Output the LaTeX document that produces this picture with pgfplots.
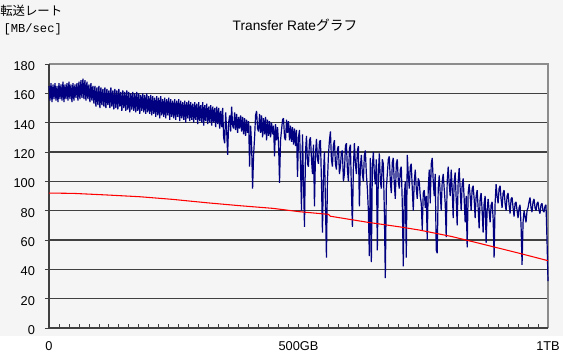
\documentclass[border=0pt]{standalone}
\usepackage{pgfplots}
\pgfplotsset{compat=1.18}
\usepackage{fontspec}
\setmainfont{Liberation Sans}
\newfontfamily\cjk{Noto Sans CJK JP}
\newfontfamily\monof{Liberation Mono}
\definecolor{bgray}{HTML}{F5F5F5}
\definecolor{bluel}{HTML}{000080}
\definecolor{gridc}{HTML}{404040}
\definecolor{framec}{HTML}{8C8C8C}
\begin{document}
\begin{tikzpicture}
\useasboundingbox (0,0) rectangle (426pt,268.5pt);
\fill[white] (0,0) rectangle (426pt,268.5pt);
\fill[bgray] (0,16.5pt) rectangle (422.25pt,268.5pt);
\node[anchor=west,inner sep=0pt,font=\cjk\fontsize{9.3pt}{10pt}\selectfont] at (0pt,260.2pt) {転送レート};
\node[anchor=west,inner sep=0pt,font=\monof\fontsize{9.1pt}{10pt}\selectfont] at (2.5pt,246.4pt) {[MB/sec]};
\node[inner sep=0pt,font=\fontsize{10.3pt}{11pt}\selectfont] at (221.25pt,249.75pt) {Transfer Rate{\cjk グラフ}};
\begin{axis}[
  at={(36.75pt,22.5pt)}, anchor=south west,
  scale only axis, width=374.25pt, height=198pt,
  xmin=0, xmax=1000, ymin=0, ymax=180,
  axis line style={draw=none},
  axis background/.style={fill=bgray},
  ytick={0,20,...,180},
  xtick={0,500,1000},
  xticklabels={0,500GB,1TB},
  minor xtick={0,20,...,1000},
  xtick pos=bottom, ytick pos=left,
  xtick align=inside, ytick align=outside,
  major tick length=3pt, minor tick length=3pt,
  tick style={draw=gridc,line width=0.6pt},
  ymajorgrids,
  major grid style={draw=gridc,line width=0.8pt},
  /pgf/number format/assume math mode=true,
  ticklabel style={font=\fontsize{9.6pt}{10pt}\selectfont},
  xticklabel style={yshift=-7pt},
  yticklabel style={xshift=-4pt,yshift=-1.5pt},
  clip=false,
]
\draw[framec,line width=0.8pt] (axis cs:0,180) -- (axis cs:1000,180) -- (axis cs:1000,0);
\draw[gridc,line width=0.8pt] (axis cs:0,180) -- (axis cs:0,0) -- (axis cs:1000,0);
\addplot[bluel,line width=0.9pt,line join=bevel] coordinates {
(0,165)(2,155)(4,167)(6,154)(8,166)(10,156)(12,167)(14,155)(16,165)(18,154)
(20,167)(22,156)(24,166)(26,155)(28,168)(30,154)(32,166)(34,156)(36,167)(38,155)
(40,168)(42,156)(44,166)(46,154)(48,167)(50,155)(52,166)(54,157)(56,167)(58,155)
(60,168)(62,156)(64,169)(66,157)(68,170)(70,156)(72,169)(74,155)(76,168)(78,156)
(80,166)(82,154)(84,167)(86,155)(88,165)(90,153)(92,165)(94,151)(96,164)(98,152)
(100,165)(102,150)(104,164)(106,152)(108,163)(110,151)(112,164)(114,150)(116,163)(118,152)
(120,162)(122,150)(124,164)(126,151)(128,162)(130,149)(132,163)(134,150)(136,162)(138,149)
(140,163)(142,151)(144,161)(146,148)(148,162)(150,150)(152,161)(154,148)(156,162)(158,149)
(160,161)(162,147)(164,160)(166,149)(168,161)(170,148)(172,160)(174,147)(176,161)(178,148)
(180,160)(182,146)(184,159)(186,148)(188,160)(190,147)(192,159)(194,146)(196,160)(198,147)
(200,158)(202,146)(204,159)(206,145)(208,158)(210,146)(212,157)(214,144)(216,158)(218,145)
(220,157)(222,143)(224,158)(226,145)(228,156)(230,144)(232,157)(234,143)(236,156)(238,145)
(240,157)(242,142)(244,156)(246,144)(248,155)(250,143)(252,156)(254,142)(256,155)(258,144)
(260,156)(262,141)(264,155)(266,143)(268,154)(270,142)(272,155)(274,140)(276,154)(278,143)
(280,155)(282,141)(284,154)(286,142)(288,153)(290,140)(292,154)(294,142)(296,153)(298,139)
(300,154)(302,141)(304,152)(306,140)(308,154)(310,138)(312,152)(314,141)(316,153)(318,139)
(320,151)(322,140)(324,152)(326,138)(328,151)(330,140)(332,150)(334,137)(336,151)(338,139)
(340,150)(342,136)(344,148)(346,137)(348,150)(350,130)(352,126)(354,147)(356,135)(358,118)
(360,140)(362,145)(364,134)(366,151)(368,138)(370,136)(372,147)(374,135)(376,146)(378,133)
(380,144)(382,136)(384,145)(386,134)(388,144)(390,132)(392,143)(394,131)(396,142)(398,133)
(400,141)(402,110)(404,138)(406,125)(408,95)(410,118)(412,130)(414,145)(416,148)(418,136)
(420,134)(422,146)(424,133)(426,145)(428,130)(430,143)(432,132)(434,144)(436,128)(438,142)
(440,131)(442,141)(444,130)(446,140)(448,132)(450,138)(452,117)(454,139)(456,128)(458,137)
(460,126)(462,99)(464,128)(466,135)(468,142)(470,143)(472,130)(474,128)(476,142)(478,133)
(480,141)(482,128)(484,138)(486,127)(488,137)(490,125)(492,136)(494,124)(496,135)(498,103)
(500,130)(502,135)(504,112)(506,80)(508,132)(510,100)(512,69)(514,120)(516,131)(518,112)
(520,110)(522,128)(524,130)(526,115)(528,105)(530,125)(532,83)(534,118)(536,129)(538,115)
(540,112)(542,127)(544,128)(546,100)(548,65)(550,105)(552,120)(554,85)(556,48)(558,100)
(560,118)(562,128)(564,134)(566,115)(568,110)(570,125)(572,128)(574,112)(576,108)(578,122)
(580,124)(582,105)(584,110)(586,120)(588,121)(590,100)(592,105)(594,124)(596,126)(598,108)
(600,100)(602,122)(604,125)(606,95)(608,69)(610,110)(612,126)(614,112)(616,105)(618,121)
(620,124)(622,83)(624,110)(626,118)(628,105)(630,100)(632,118)(634,121)(636,105)(638,95)
(640,80)(642,49)(644,116)(646,45)(648,110)(650,120)(652,105)(654,98)(656,115)(658,53)
(660,105)(662,119)(664,100)(666,95)(668,115)(670,112)(672,80)(674,34)(676,95)(678,105)
(680,115)(682,117)(684,100)(686,92)(688,113)(690,116)(692,98)(694,88)(696,112)(698,115)
(700,100)(702,95)(704,108)(706,110)(708,85)(710,42)(712,90)(714,100)(716,48)(718,118)
(720,105)(722,95)(724,110)(726,112)(728,95)(730,80)(732,100)(734,108)(736,95)(738,88)
(740,102)(742,100)(744,90)(746,85)(748,67)(750,92)(752,94)(754,82)(756,90)(758,60)
(760,95)(762,108)(764,85)(766,112)(768,116)(770,100)(772,90)(774,105)(776,53)(778,51)
(780,95)(782,104)(784,92)(786,80)(788,100)(790,105)(792,95)(794,85)(796,62)(798,100)
(800,110)(802,98)(804,90)(806,108)(808,95)(810,75)(812,100)(814,106)(816,88)(818,70)
(820,100)(822,109)(824,95)(826,80)(828,98)(830,102)(832,88)(834,72)(836,90)(838,55)
(840,92)(842,98)(844,90)(846,80)(848,95)(850,97)(852,88)(854,75)(856,90)(858,94)
(860,82)(862,68)(864,88)(866,92)(868,80)(870,65)(872,85)(874,90)(876,58)(878,80)
(880,88)(882,80)(884,72)(886,84)(888,86)(890,75)(892,48)(894,85)(896,98)(898,90)
(900,85)(902,95)(904,97)(906,88)(908,82)(910,92)(912,94)(914,85)(916,80)(918,90)
(920,92)(922,84)(924,78)(926,88)(928,89)(930,82)(932,76)(934,85)(936,86)(938,80)
(940,75)(942,82)(944,84)(946,70)(948,43)(950,72)(952,80)(954,76)(956,72)(958,80)
(960,82)(962,86)(964,89)(966,82)(968,79)(970,86)(972,88)(974,82)(976,80)(978,85)
(980,86)(982,80)(984,78)(986,84)(988,85)(990,80)(992,79)(994,83)(996,84)(998,60)
(1000,32)
};
\addplot[red,line width=0.8pt] coordinates {
(0,92)(48,91.8)(116,90.7)(182,89.5)(248,87.7)(316,85.4)(382,83.4)(448,81.6)
(502,79.3)(560,77.5)(564,76.2)(640,72)(702,69)(742,66.8)(808,62.3)(876,56.6)
(942,51)(1000,45.9)
};
\end{axis}
\end{tikzpicture}
\end{document}
